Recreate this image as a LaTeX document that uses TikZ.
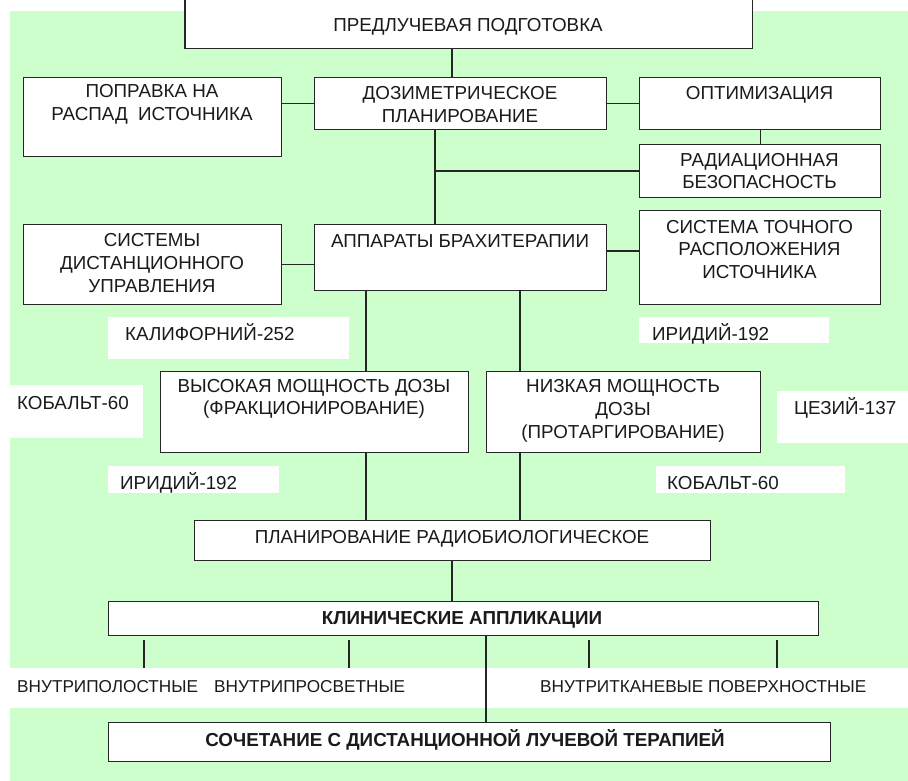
\documentclass[tikz,border=0pt]{standalone}
\usepackage{fontspec}
\setmainfont{Liberation Sans}
\usetikzlibrary{calc}
\definecolor{bg}{HTML}{CCFFCC}
\definecolor{ln}{HTML}{262626}
\definecolor{tx}{HTML}{1A1A1A}
\newcommand\mainfs{\fontsize{18.8}{22.7}\selectfont}
\newcommand\smallfs{\fontsize{17.2}{20}\selectfont}
\tikzset{
  boxn/.style={draw=ln, line width=1.3pt, fill=white, inner sep=0pt, anchor=north west},
  whiten/.style={fill=white, draw=none, inner sep=0pt, anchor=north west},
  txt/.style={font=\mainfs, align=center, inner sep=0pt, text=tx},
  ltxt/.style={font=\mainfs, inner sep=0pt, text=tx, anchor=base west},
  stxt/.style={font=\smallfs, inner sep=0pt, text=tx, anchor=base west},
  btxt/.style={font=\mainfs\bfseries, inner sep=0pt, text=tx, anchor=base},
  conn/.style={draw=ln, line width=1.3pt}
}
\begin{document}
\begin{tikzpicture}[x=1pt,y=-1pt]
\useasboundingbox (0,0) rectangle (908,781);
\clip (0,0) rectangle (908,781);
% background
\fill[white] (0,0) rectangle (908,781);
\fill[bg] (10,11) rectangle (908,781);
\fill[white] (0,668) rectangle (908,708);

% white label backgrounds
\node[whiten, minimum width=241, minimum height=42] (kalbg) at (108,317) {};
\node[whiten, minimum width=190, minimum height=26] (ir1bg) at (639,317) {};
\node[whiten, minimum width=143, minimum height=53] (kob1bg) at (0,385) {};
\node[whiten, minimum width=131, minimum height=52] (cesbg) at (777,391) {};
\node[whiten, minimum width=171, minimum height=27] (ir2bg) at (108,466) {};
\node[whiten, minimum width=189, minimum height=27] (kob2bg) at (656,466) {};

% boxes
\node[whiten, minimum width=567, minimum height=60] (top) at (185,-12) {};
\draw[conn] (top.north west) -- (top.south west) -- (top.south east) -- (top.north east);
\node[boxn, minimum width=258, minimum height=79] (popr) at (23,77) {};
\node[boxn, minimum width=292, minimum height=52] (dozim) at (314,77) {};
\node[boxn, minimum width=241, minimum height=52] (optim) at (639,77) {};
\node[boxn, minimum width=241, minimum height=53] (rad) at (639,144) {};
\node[boxn, minimum width=292, minimum height=66] (appar) at (314,224) {};
\node[boxn, minimum width=258, minimum height=80] (sysd) at (23,224) {};
\node[boxn, minimum width=241, minimum height=94] (syst) at (639,210) {};
\node[boxn, minimum width=308, minimum height=81] (vys) at (160,371) {};
\node[boxn, minimum width=274, minimum height=81] (niz) at (486,371) {};
\node[boxn, minimum width=516, minimum height=40] (plan) at (194,520) {};
\node[boxn, minimum width=710, minimum height=34] (klin) at (108,601) {};
\node[boxn, minimum width=722, minimum height=39] (soch) at (108,722) {};

% helper coordinates
\coordinate (c1) at (452,0);
\coordinate (c2) at (435,0);
\coordinate (c3) at (0,251);
\coordinate (c4) at (366,0);
\coordinate (c5) at (520,0);
\coordinate (c6) at (486,0);
\coordinate (t1a) at (144,640); \coordinate (t1b) at (144,668);
\coordinate (t2a) at (349,640); \coordinate (t2b) at (349,668);
\coordinate (t3a) at (589,640); \coordinate (t3b) at (589,668);
\coordinate (t4a) at (777,640); \coordinate (t4b) at (777,668);

% connectors
\draw[conn] (top.south -| c1) -- (dozim.north -| c1);
\draw[conn] (dozim.west -| popr.east) -- (dozim.west);
\draw[conn] (dozim.east) -- (optim.west);
\draw[conn] (optim.south) -- (rad.north);
\draw[conn] (dozim.south -| c2) -- (appar.north -| c2);
\draw[conn] (rad.west -| c2) -- (rad.west);
\draw[conn] (sysd.east) -- (sysd.east -| appar.west);
\draw[conn] (appar.east |- c3) -- (syst.west |- c3);
\draw[conn] (appar.south -| c4) -- (vys.north -| c4);
\draw[conn] (appar.south -| c5) -- (niz.north -| c5);
\draw[conn] (vys.south -| c4) -- (plan.north -| c4);
\draw[conn] (niz.south -| c5) -- (plan.north -| c5);
\draw[conn] (plan.south -| c1) -- (klin.north -| c1);
\draw[conn] (klin.south -| c6) -- (soch.north -| c6);
\draw[conn] (t1a) -- (t1b);
\draw[conn] (t2a) -- (t2b);
\draw[conn] (t3a) -- (t3b);
\draw[conn] (t4a) -- (t4b);

% texts
\node[txt, anchor=base] (toptx) at (468,31.5) {ПРЕДЛУЧЕВАЯ ПОДГОТОВКА};
\node[txt] (poprtx) at (152,104.5) {ПОПРАВКА НА\\РАСПАД\ \ ИСТОЧНИКА};
\node[txt] (dozimtx) at (460,104.5) {ДОЗИМЕТРИЧЕСКОЕ\\ПЛАНИРОВАНИЕ};
\node[txt, anchor=base] (optimtx) at (759.5,99.5) {ОПТИМИЗАЦИЯ};
\node[txt] (radtx) at (759.5,171) {РАДИАЦИОННАЯ\\БЕЗОПАСНОСТЬ};
\node[txt, anchor=base] (appartx) at (460,247.5) {АППАРАТЫ БРАХИТЕРАПИИ};
\node[txt] (sysdtx) at (152,263) {СИСТЕМЫ\\ДИСТАНЦИОННОГО\\УПРАВЛЕНИЯ};
\node[txt] (systtx) at (759.5,249.5) {СИСТЕМА ТОЧНОГО\\РАСПОЛОЖЕНИЯ\\ИСТОЧНИКА};
\node[ltxt] (kaltx) at (125,340.5) {КАЛИФОРНИЙ-252};
\node[ltxt] (ir1tx) at (652,340.5) {ИРИДИЙ-192};
\node[ltxt] (kob1tx) at (17,409.5) {КОБАЛЬТ-60};
\node[txt] (vystx) at (314,399) {ВЫСОКАЯ МОЩНОСТЬ ДОЗЫ\\(ФРАКЦИОНИРОВАНИЕ)};
\node[txt] (niztx) at (623,411) {НИЗКАЯ МОЩНОСТЬ\\ДОЗЫ\\(ПРОТАРГИРОВАНИЕ)};
\node[ltxt] (cestx) at (794,414.5) {ЦЕЗИЙ-137};
\node[ltxt] (ir2tx) at (120,489.5) {ИРИДИЙ-192};
\node[ltxt] (kob2tx) at (667,489.5) {КОБАЛЬТ-60};
\node[txt, anchor=base] (plantx) at (452,543.5) {ПЛАНИРОВАНИЕ РАДИОБИОЛОГИЧЕСКОЕ};
\node[btxt] (klintx) at (462,624.5) {КЛИНИЧЕСКИЕ АППЛИКАЦИИ};
\node[stxt] (l1) at (17,692) {ВНУТРИПОЛОСТНЫЕ};
\node[stxt] (l2) at (214,692) {ВНУТРИПРОСВЕТНЫЕ};
\node[stxt] (l3) at (540,692) {ВНУТРИТКАНЕВЫЕ ПОВЕРХНОСТНЫЕ};
\node[btxt] (sochtx) at (465,746.5) {СОЧЕТАНИЕ С ДИСТАНЦИОННОЙ ЛУЧЕВОЙ ТЕРАПИЕЙ};
\end{tikzpicture}
\end{document}
